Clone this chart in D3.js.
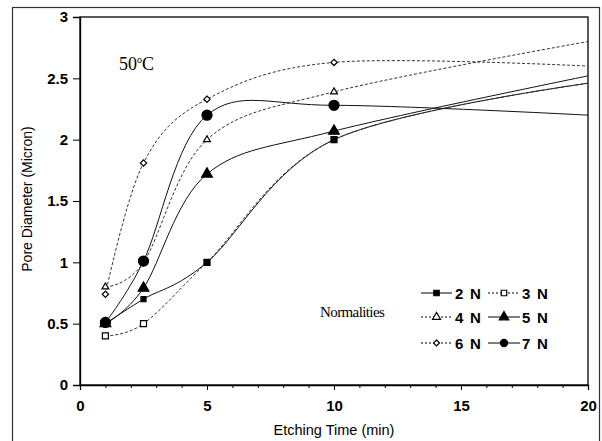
<!DOCTYPE html>
<html><head><meta charset="utf-8">
<script src="https://cdn.jsdelivr.net/npm/d3@7"></script>
<style>body{margin:0;background:#fff}svg{display:block}</style>
</head><body>
<svg id="c" width="602" height="441"></svg>
<script>
const times = [1, 2.5, 5, 10, 20];
const seriesNames = ["2 N", "3 N", "4 N", "5 N", "6 N", "7 N"];
const s2N = [0.50, 0.70, 1.00, 2.00, 2.46];
const s3N = [0.40, 0.50, 1.00, 2.00, 2.46];
const s4N = [0.80, 1.00, 2.00, 2.39, 2.80];
const s5N = [0.50, 0.79, 1.72, 2.07, 2.52];
const s6N = [0.74, 1.81, 2.33, 2.63, 2.60];
const s7N = [0.51, 1.01, 2.20, 2.28, 2.20];
const xTicks = [0, 5, 10, 15, 20];
const yTicks = [0, 0.5, 1, 1.5, 2, 2.5, 3];
const markerMaxTime = 10;

const values = [s2N, s3N, s4N, s5N, s6N, s7N];
const diamond = {draw(ctx, size) { const r = Math.sqrt(size) / 2; ctx.moveTo(0, -r); ctx.lineTo(r, 0); ctx.lineTo(0, r); ctx.lineTo(-r, 0); ctx.closePath(); }};
const styles = [
  {sym: d3.symbolSquare, size: 25, fill: "#000", dash: null},
  {sym: d3.symbolSquare, size: 36, fill: "#fff", dash: "3,2"},
  {sym: d3.symbolTriangle, size: 20, fill: "#fff", dash: "3,2"},
  {sym: d3.symbolTriangle, size: 50, fill: "#000", dash: null},
  {sym: diamond, size: 40, fill: "#fff", dash: "3,2"},
  {sym: d3.symbolCircle, size: 80, fill: "#000", dash: null}
];
const legSizes = [30, 30, 28, 40, 36, 40];

const svg = d3.select("#c");
const L = 80, R = 588, T = 17, B = 385;
const x = d3.scaleLinear().domain([0, 20]).range([L, R]);
const y = d3.scaleLinear().domain([0, 3]).range([B, T]);

// outer frame
svg.append("rect").attr("x", 12.5).attr("y", 7.5).attr("width", 587).attr("height", 440)
  .attr("fill", "none").attr("stroke", "#333").attr("stroke-width", 1.2);

// plot frame
svg.append("rect").attr("x", L).attr("y", T).attr("width", R - L).attr("height", B - T)
  .attr("fill", "none").attr("stroke", "#000").attr("stroke-width", 1.3);

// axes
const xAxis = svg.append("g").attr("transform", `translate(0,${B})`)
  .call(d3.axisBottom(x).tickValues(xTicks).tickSize(5).tickPadding(10).tickFormat(d3.format("d")));
const xMinor = svg.append("g").attr("transform", `translate(0,${B})`)
  .call(d3.axisBottom(x).tickValues(d3.range(0, 21, 1)).tickSize(3).tickFormat(""));
xMinor.select(".domain").remove();
const yAxis = svg.append("g").attr("transform", `translate(${L},0)`)
  .call(d3.axisLeft(y).tickValues(yTicks).tickSize(7).tickPadding(5).tickFormat(d => d));
[xAxis, yAxis].forEach(g => {
  g.select(".domain").attr("stroke-width", 1.3);
  g.selectAll("text").attr("font-family", "Liberation Sans, Arial, sans-serif")
    .attr("font-size", 15).attr("font-weight", "bold").attr("fill", "#000");
});
svg.selectAll(".tick line").attr("stroke", "#000");

// titles
svg.append("text").attr("x", 334).attr("y", 435).attr("text-anchor", "middle")
  .attr("font-family", "Liberation Sans, Arial, sans-serif").attr("font-size", 14.5)
  .text("Etching Time (min)");
svg.append("text").attr("transform", "translate(32,199) rotate(-90)").attr("text-anchor", "middle")
  .attr("font-family", "Liberation Sans, Arial, sans-serif").attr("font-size", 14)
  .text("Pore Diameter (Micron)");

// annotations
const t50 = svg.append("text").attr("x", 119).attr("y", 70)
  .attr("font-family", "Liberation Serif, Times New Roman, serif").attr("font-size", 18);
t50.append("tspan").text("50");
t50.append("tspan").attr("dy", -7).attr("font-size", 10).text("o");
t50.append("tspan").attr("dy", 7).text("C");
svg.append("text").attr("x", 320).attr("y", 317)
  .attr("font-family", "Liberation Serif, Times New Roman, serif").attr("font-size", 15)
  .attr("letter-spacing", -0.6).text("Normalities");

// clip
svg.append("clipPath").attr("id", "pc").append("rect")
  .attr("x", L).attr("y", T).attr("width", R - L).attr("height", B - T);

const line = d3.line().x(d => x(d[0])).y(d => y(d[1])).curve(d3.curveCatmullRom.alpha(0));
const plot = svg.append("g").attr("clip-path", "url(#pc)");
values.forEach((vals, i) => {
  const pts = times.map((t, j) => [t, vals[j]]);
  const st = styles[i];
  plot.append("path").datum(pts).attr("d", line).attr("fill", "none")
    .attr("stroke", st.dash ? "#333" : "#111").attr("stroke-width", 1)
    .attr("stroke-dasharray", st.dash);
});
// markers, draw in order so filled circles end on top
const order = [1, 0, 2, 4, 3, 5];
order.forEach(i => {
  const st = styles[i];
  const pts = times.map((t, j) => [t, values[i][j]]).filter(p => p[0] <= markerMaxTime);
  plot.selectAll(null).data(pts).enter().append("path")
    .attr("d", d3.symbol().type(st.sym).size(st.size))
    .attr("transform", d => `translate(${x(d[0])},${y(d[1])})`)
    .attr("fill", st.fill).attr("stroke", "#000").attr("stroke-width", 1.2);
});

// legend
const legRows = [293, 317, 343];
const legCols = [{x0: 421, x1: 452, tx: 455}, {x0: 488, x1: 520, tx: 522}];
seriesNames.forEach((name, i) => {
  const st = styles[i];
  const row = legRows[Math.floor(i / 2)], col = legCols[i % 2];
  const g = svg.append("g");
  g.append("line").attr("x1", col.x0).attr("x2", col.x1).attr("y1", row).attr("y2", row)
    .attr("stroke", "#000").attr("stroke-width", 1).attr("stroke-dasharray", st.dash ? "2,2" : null);
  g.append("path").attr("d", d3.symbol().type(st.sym).size(legSizes[i]))
    .attr("transform", `translate(${(col.x0 + col.x1) / 2},${row})`)
    .attr("fill", st.fill).attr("stroke", "#000").attr("stroke-width", 1.2);
  g.append("text").attr("x", col.tx).attr("y", row + 5.5)
    .attr("font-family", "Liberation Sans, Arial, sans-serif").attr("font-size", 15)
    .attr("font-weight", "bold").attr("letter-spacing", 1.2).text(name);
});
</script>
</body></html>
